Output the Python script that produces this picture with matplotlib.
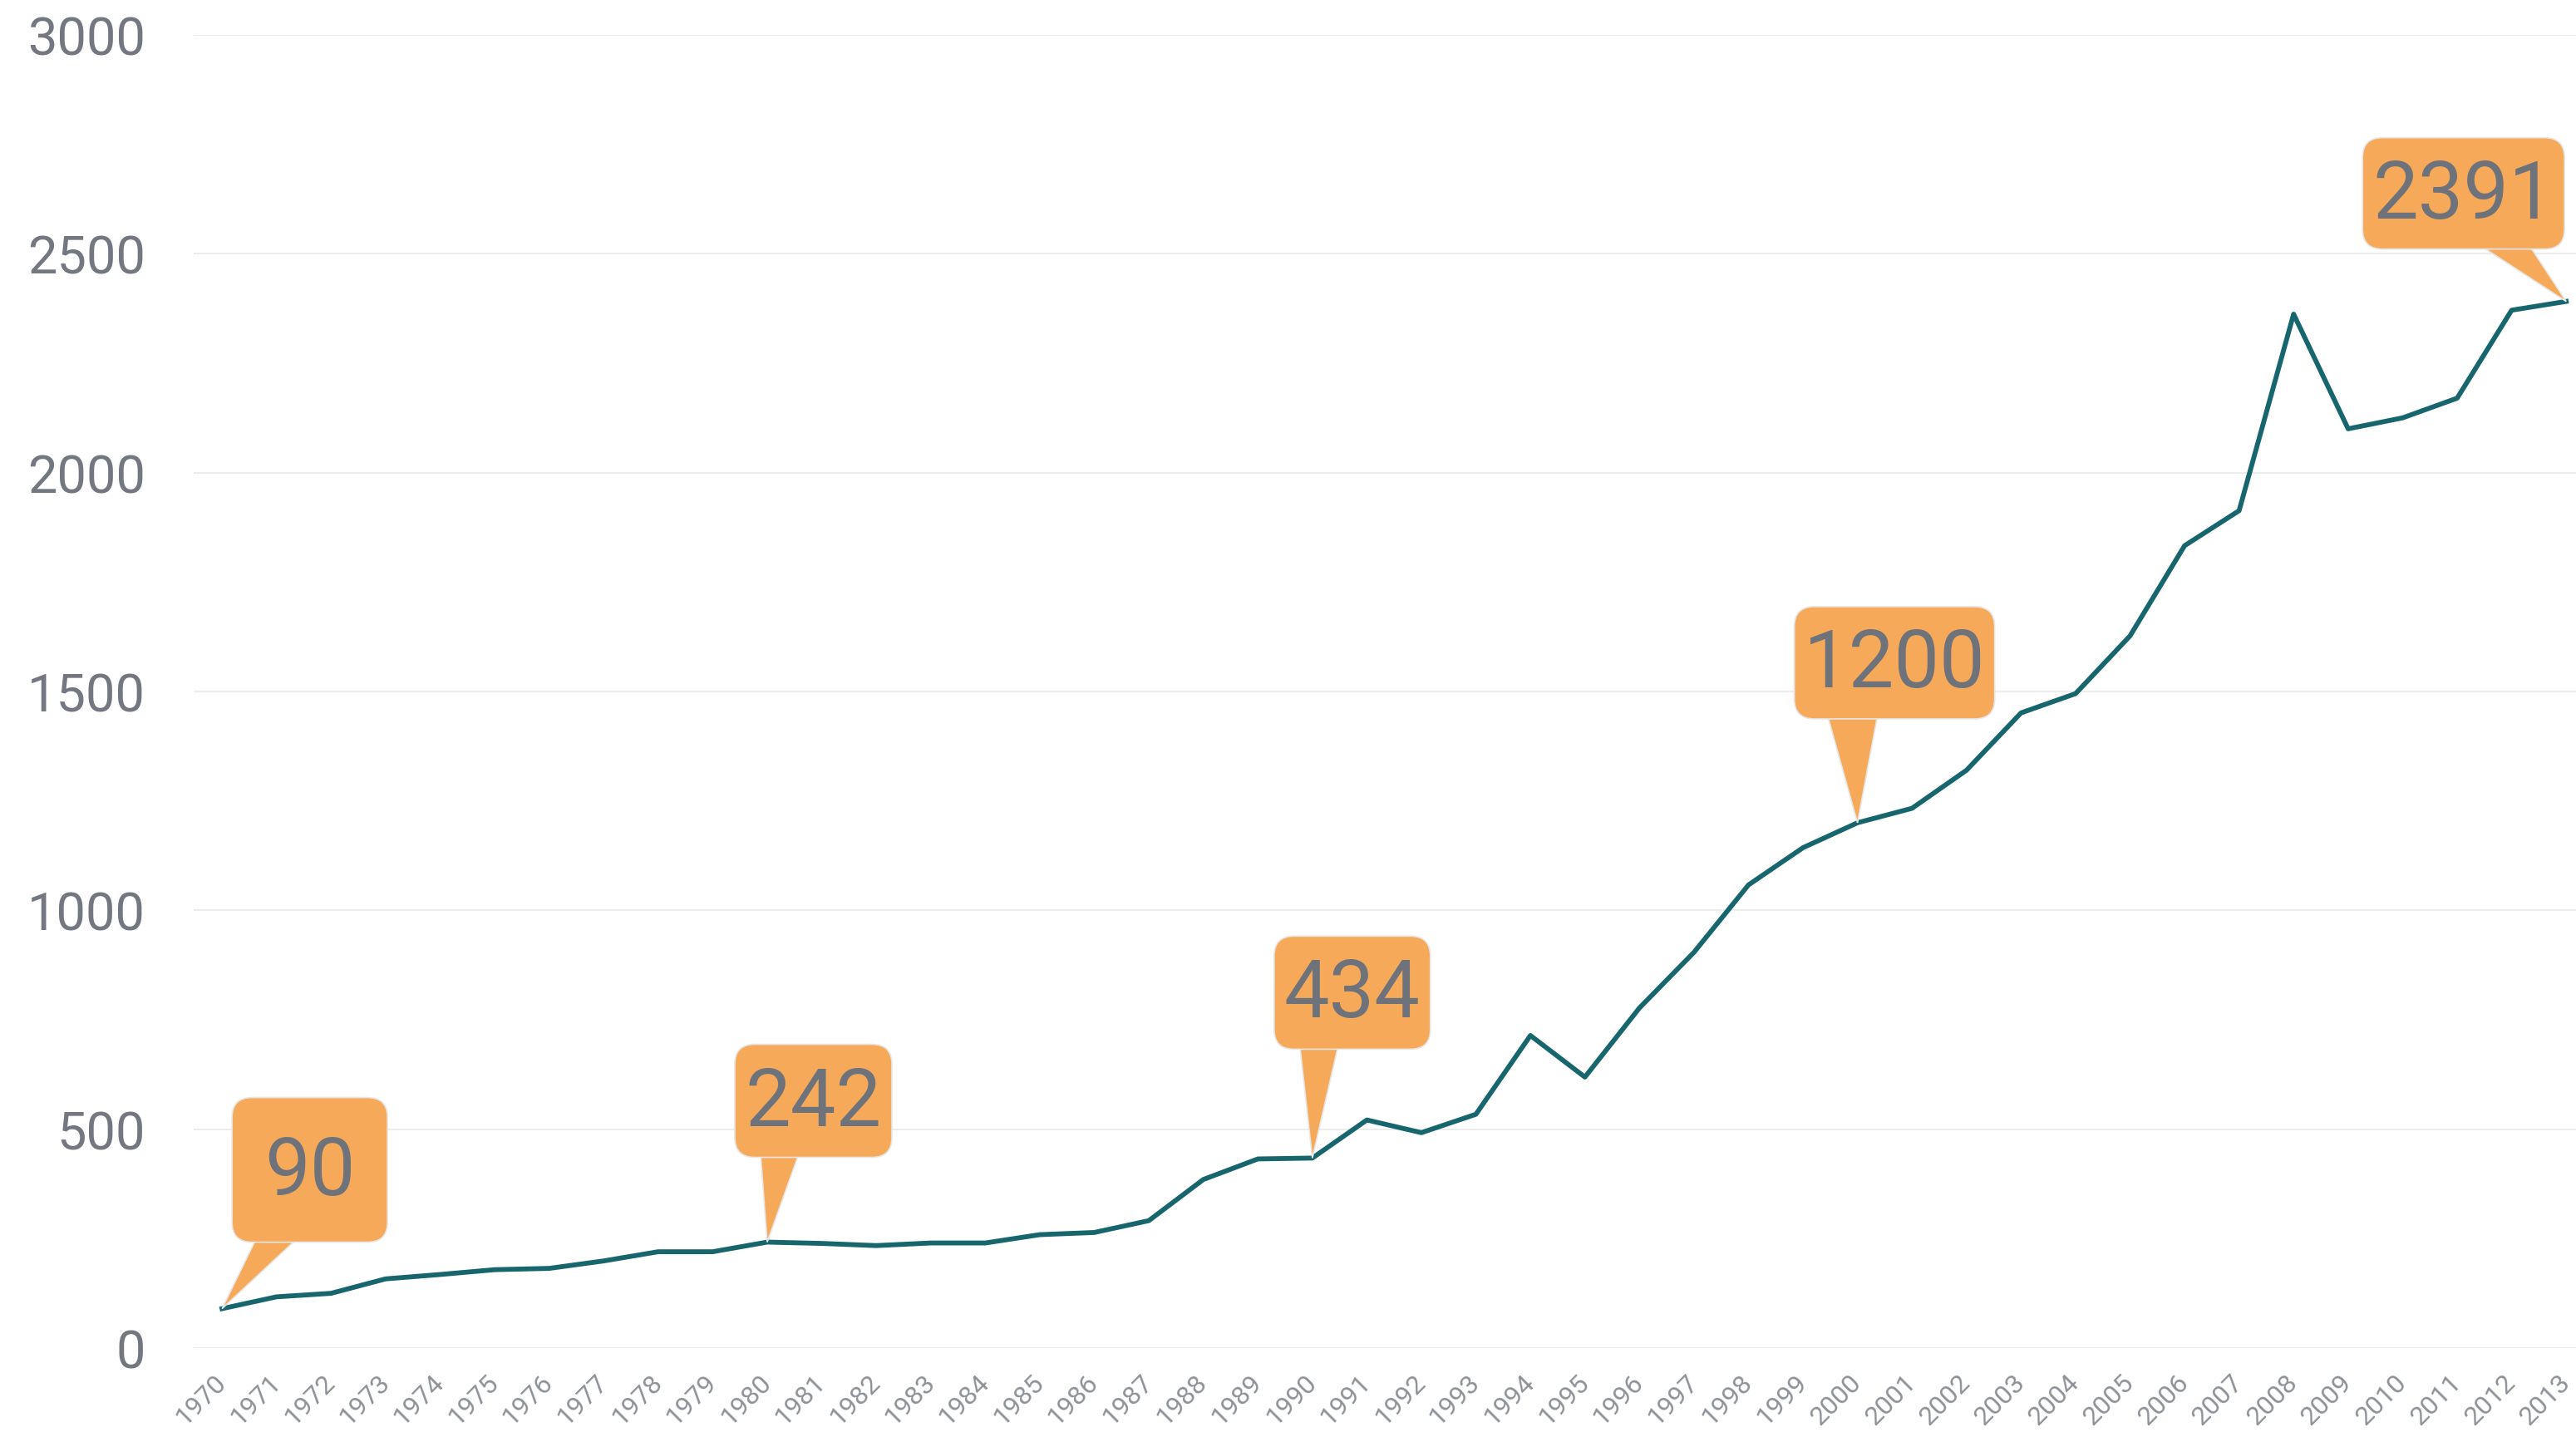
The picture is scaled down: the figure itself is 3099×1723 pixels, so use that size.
import matplotlib
matplotlib.use("Agg")
import matplotlib.pyplot as plt
import numpy as np
from matplotlib.patches import FancyBboxPatch, Polygon
from matplotlib.transforms import IdentityTransform

# data
years = list(range(1970, 2014))
values = [90, 117, 125, 158, 168, 179, 182, 199, 220, 220,
          242, 239, 234, 240, 240, 259, 264, 291, 385, 432,
          434, 521, 492, 534, 714, 619, 777, 904, 1058, 1143,
          1200, 1233, 1320, 1451, 1495, 1627, 1833, 1913, 2362, 2100,
          2125, 2170, 2371, 2391]
y_ticks = [0, 500, 1000, 1500, 2000, 2500, 3000]

# callouts: year, box left/right offset and bottom/top offset (px from the point),
# pointer base left/right offset (px)
callout_years = [1970, 1980, 1990, 2000, 2013]
callout_box = [(12, 199, 80, 254), (-39, 150, 102, 238), (-46, 142, 131, 267),
               (-76, 165, 125, 260), (-245, -2, 63, 197)]
callout_base = [(41, 90), (-8, 38), (-15, 31), (-36, 24), (-103, -44)]

line_color = "#17666e"
box_color = "#f6aa59"
text_color = "#6e727a"
grid_color = "#ececec"

plt.rcParams['font.family'] = ['Roboto', 'DejaVu Sans']

fig = plt.figure(figsize=(30.99, 17.24), dpi=100)
ax = fig.add_axes([0.0752, 0.0586, 0.9248, 0.9165])

ax.plot(years, values, color=line_color, lw=4.2, solid_joinstyle='round', zorder=3)

ax.set_xlim(1969.48, 2013.18)
ax.set_ylim(0, 3000)
ax.set_yticks(y_ticks)
ax.set_yticklabels([str(t) for t in y_ticks], fontsize=45.5, color="#737880")
ax.set_xticks(years)
ax.set_xticklabels([str(y) for y in years], rotation=45, ha='right', va='center',
                   rotation_mode='anchor', fontsize=23, fontweight='normal',
                   color="#8d9298")
ax.tick_params(axis='y', length=0, pad=42)
ax.tick_params(axis='x', length=0, pad=26)
ax.grid(axis='y', color=grid_color, lw=1.5)
ax.set_axisbelow(True)
for s in ax.spines.values():
    s.set_visible(False)

# draw the callout bubbles in pixel space around each labelled point
for yr, (l, r, b, t), (bl, br) in zip(callout_years, callout_box, callout_base):
    v = values[years.index(yr)]
    px, py = ax.transData.transform((yr, v))
    tri = Polygon([(px, py), (px + bl, py + b + 4), (px + br, py + b + 4)],
                  closed=True, facecolor=box_color, edgecolor="#e6e6e6", lw=1.2,
                  transform=IdentityTransform(), zorder=4)
    fig.add_artist(tri)
    box = FancyBboxPatch((px + l, py + b), r - l, t - b,
                         boxstyle="round,pad=0,rounding_size=24",
                         facecolor=box_color, edgecolor="#e6e6e6", lw=1.2,
                         transform=IdentityTransform(), zorder=5)
    fig.add_artist(box)
    fig.text(px + (l + r) / 2, py + (b + t) / 2 - 3, str(v), transform=IdentityTransform(),
             ha='center', va='center', fontsize=70, color=text_color, zorder=6)

fig.savefig("out.png", dpi=100)
